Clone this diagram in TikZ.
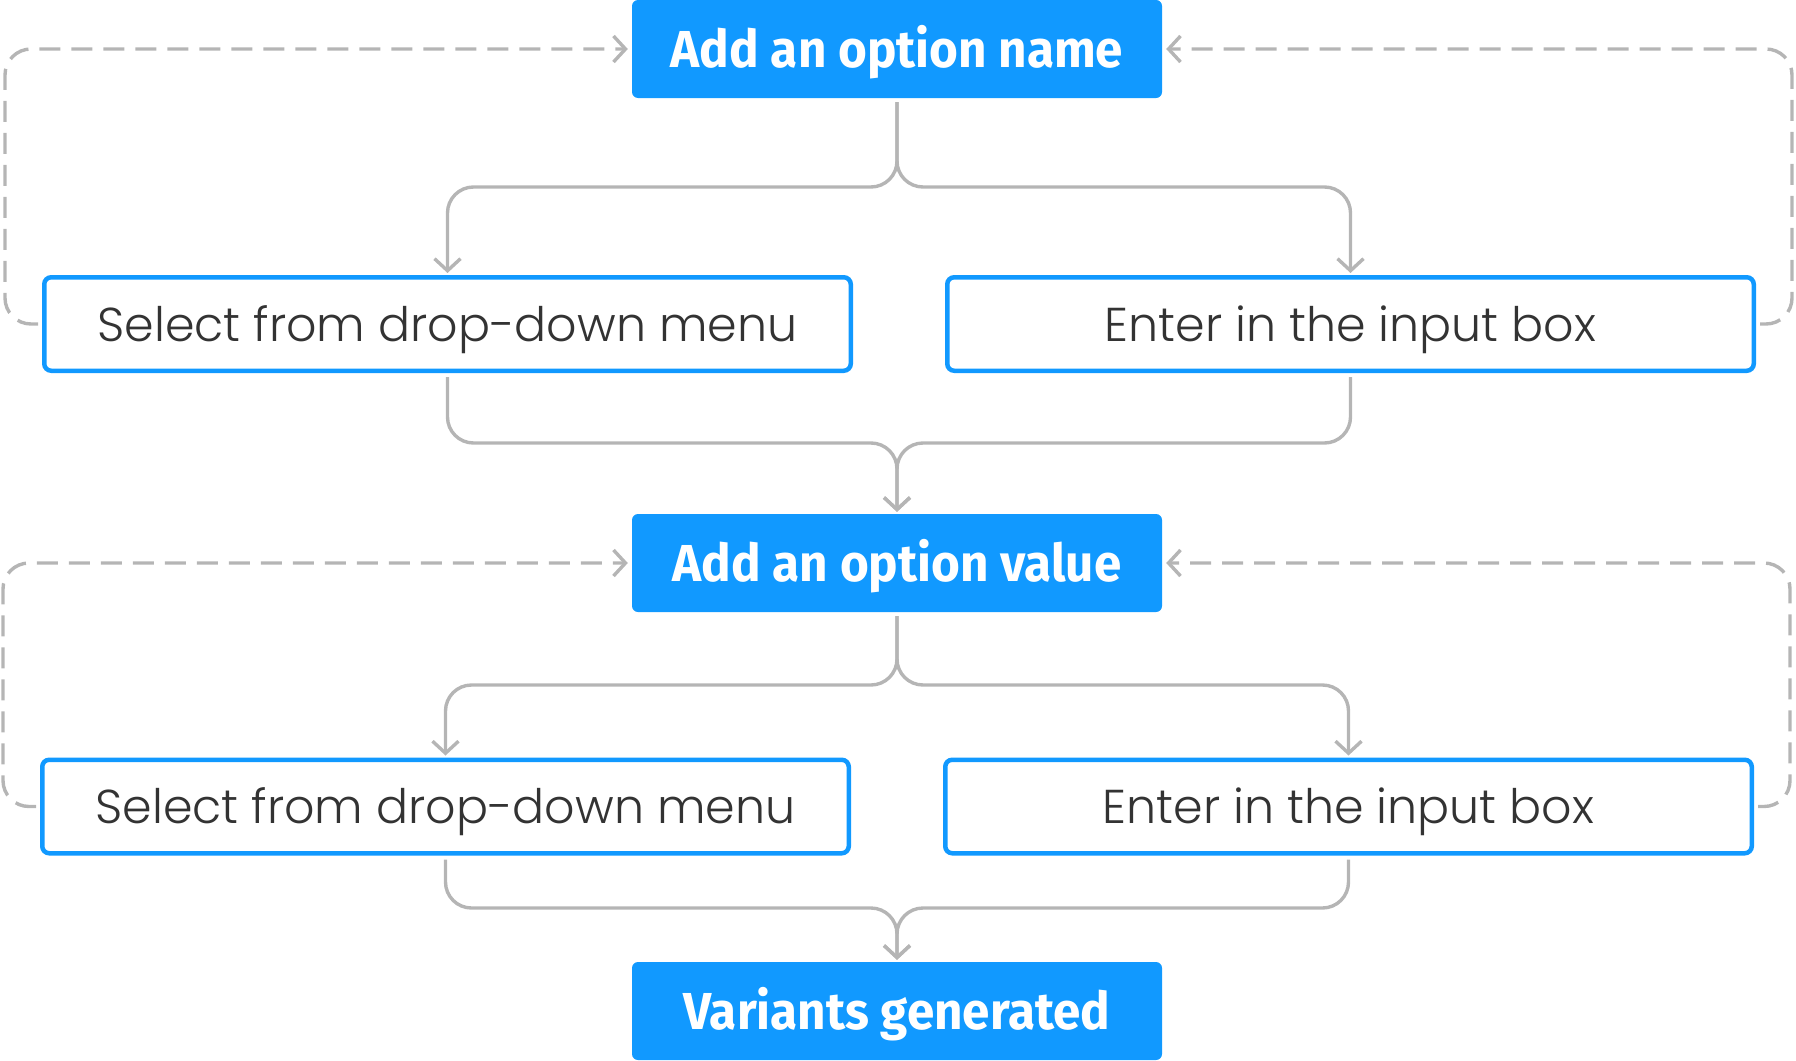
\documentclass[tikz,border=0pt]{standalone}
\usepackage{fontspec}
\usetikzlibrary{arrows.meta}
\newfontfamily\headfont{Fira Sans}[FakeStretch=0.95]
\newfontfamily\bodyfont{Poppins Light}
\definecolor{optblue}{HTML}{1199FF}
\definecolor{linegray}{HTML}{B5B5B5}
\definecolor{inktext}{HTML}{333333}

\begin{document}
\begin{tikzpicture}[x=1pt, y=-1pt,
    mainbox/.style={fill=optblue, rounded corners=6pt, minimum width=530pt,
      minimum height=98pt, inner sep=0pt, text=white, text height=37pt, text depth=0pt,
      font=\headfont\bfseries\fontsize{52}{60}\selectfont},
    choicebox/.style={draw=optblue, line width=4.5pt, fill=white, rounded corners=7pt,
      minimum width=806.5pt, minimum height=93.5pt, inner sep=0pt, text=inktext,
      text height=34pt, text depth=0pt, font=\bodyfont\fontsize{47.5}{57}\selectfont},
    flow/.style={draw=linegray, line width=3.4pt, rounded corners=26pt,
      -{Straight Barb[length=12pt, width=26pt]}, shorten <=4pt, shorten >=2pt},
    backloop/.style={flow, dash pattern=on 21pt off 11pt, shorten >=4pt}]
    \useasboundingbox (0,0) rectangle (1796,1060);

    \node[mainbox] (optname) at (897,49) {Add an option name};
    \node[choicebox] (pick1) at (447.5,324) {Select from drop-down menu};
    \node[choicebox] (type1) at (1350.5,324) {Enter in the input box};
    \node[mainbox] (optvalue) at (897,563) {Add an option value};
    \node[choicebox] (pick2) at (445.5,806.5) {Select from drop-down menu};
    \node[choicebox] (type2) at (1348.5,806.5) {Enter in the input box};
    \node[mainbox] (variants) at (897,1011) {Variants generated};

    \coordinate (split1) at (897,187);
    \coordinate (merge1) at (897,443);
    \coordinate (split2) at (897,685);
    \coordinate (merge2) at (897,908);
    \coordinate (loopL1) at (5,49);
    \coordinate (loopR1) at (1792,49);
    \coordinate (loopL2) at (3,563);
    \coordinate (loopR2) at (1790,563);

    % option name
    \draw[flow] (optname.south) -- (split1) -| (pick1.north);
    \draw[flow] (optname.south) -- (split1) -| (type1.north);
    \draw[flow] (pick1.south) |- (merge1) -- (optvalue.north);
    \draw[flow] (type1.south) |- (merge1) -- (optvalue.north);
    \draw[backloop] (pick1.west) -| (loopL1) -- (optname.west);
    \draw[backloop] (type1.east) -| (loopR1) -- (optname.east);

    % option value
    \draw[flow] (optvalue.south) -- (split2) -| (pick2.north);
    \draw[flow] (optvalue.south) -- (split2) -| (type2.north);
    \draw[flow] (pick2.south) |- (merge2) -- (variants.north);
    \draw[flow] (type2.south) |- (merge2) -- (variants.north);
    \draw[backloop] (pick2.west) -| (loopL2) -- (optvalue.west);
    \draw[backloop] (type2.east) -| (loopR2) -- (optvalue.east);
\end{tikzpicture}
\end{document}
